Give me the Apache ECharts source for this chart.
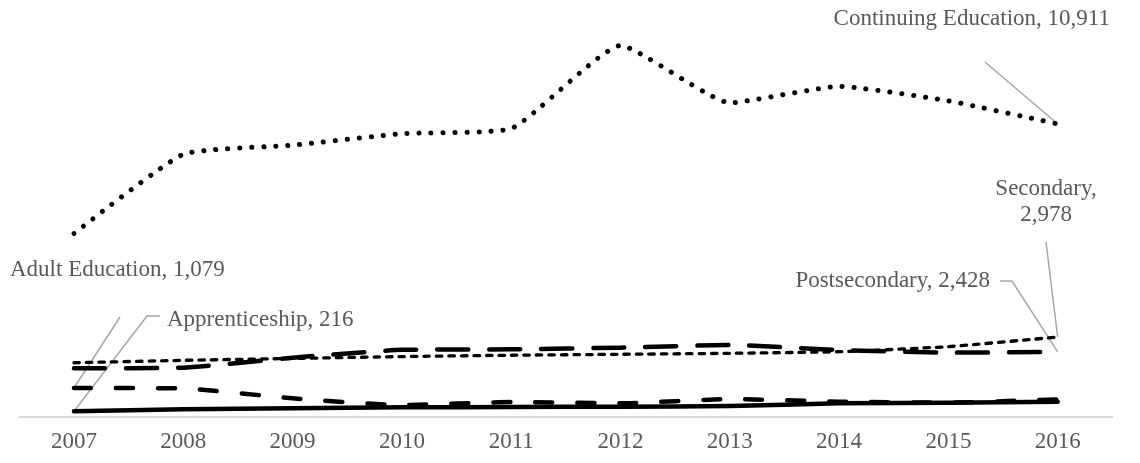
<!DOCTYPE html>
<html><head><meta charset="utf-8">
<script src="https://cdn.jsdelivr.net/npm/echarts@6/dist/echarts.min.js"></script>
<style>html,body{margin:0;padding:0;background:#fff}#c{width:1140px;height:463px}</style>
</head><body><div id="c"></div>
<script>
const years = ['2007','2008','2009','2010','2011','2012','2013','2014','2015','2016'];
const continuing = [6830, 9780, 10120, 10550, 10740, 13830, 11700, 12310, 11770, 10911];
const secondary = [2020, 2110, 2180, 2250, 2300, 2335, 2372, 2432, 2619, 2978];
const postsecondary = [1813, 1837, 2210, 2500, 2520, 2582, 2681, 2495, 2396, 2428];
const adult = [1079, 1062, 696, 440, 558, 509, 670, 570, 533, 658];
const apprentice = [216, 287, 324, 361, 372, 385, 410, 509, 533, 570];
const seriesNames = ['Continuing Education', 'Secondary', 'Postsecondary', 'Adult Education', 'Apprenticeship'];
const labelTexts = ['Continuing Education, 10,911', 'Secondary,\n2,978', 'Postsecondary, 2,428', 'Adult Education, 1,079', 'Apprenticeship, 216'];

const FONT = "'Liberation Serif', 'Times New Roman', serif";
const TXT = '#595959';
const LEAD = '#a6a6a6';

const chart = echarts.init(document.getElementById('c'), null, {renderer: 'canvas'});
const baseLine = (w, type) => ({color: '#000', width: w, type: type, cap: 'round', join: 'round'});
const mk = (name, data, ls) => ({
  name, type: 'line', data, smooth: 0.15, showSymbol: false, symbol: 'none',
  lineStyle: ls, emphasis: {disabled: true}, silent: true, animation: false
});
chart.setOption({
  animation: false,
  grid: {left: 19.35, right: 27.65, top: 41, bottom: 46, containLabel: false},
  xAxis: {
    type: 'category', data: years, boundaryGap: true,
    axisLine: {show: true, lineStyle: {color: '#d9d9d9', width: 2}},
    axisTick: {show: false},
    axisLabel: {color: TXT, fontFamily: FONT, fontSize: 23, margin: 13}
  },
  yAxis: {type: 'value', min: 0, max: 14000, show: false, splitLine: {show: false}},
  series: [
    mk(seriesNames[4], apprentice, baseLine(4.5, 'solid')),
    mk(seriesNames[3], adult, baseLine(4.5, [17, 25])),
    mk(seriesNames[2], postsecondary, baseLine(4.5, [31, 21])),
    mk(seriesNames[1], secondary, baseLine(3.3, [5.5, 7])),
    mk(seriesNames[0], continuing, baseLine(5, [0.1, 11.9]))
  ]
});

function pt(arr, i) {
  return chart.convertToPixel({xAxisIndex: 0, yAxisIndex: 0}, [i, arr[i]]);
}
const last = years.length - 1;
const pC = pt(continuing, last), pS = pt(secondary, last), pP = pt(postsecondary, last);
const pA = pt(adult, 0), pR = pt(apprentice, 0);
const txt = (text, x, y, align) => ({
  type: 'text', x, y, silent: true,
  style: {text, fill: TXT, font: '23px ' + FONT, align, verticalAlign: 'middle', lineHeight: 26}
});
const line = (points) => ({
  type: 'polyline', silent: true,
  shape: {points}, style: {stroke: LEAD, lineWidth: 1.5, fill: null}
});
chart.setOption({
  graphic: [
    txt(labelTexts[0], 1110, 19, 'right'),
    line([[985, 62], pC]),
    txt(labelTexts[1], 1046, 202, 'center'),
    line([[1046, 242], pS]),
    txt(labelTexts[2], 990, 281, 'right'),
    line([[1000, 281], [1012, 281], pP]),
    txt(labelTexts[3], 10, 270, 'left'),
    line([[120, 317], pA]),
    txt(labelTexts[4], 167, 320, 'left'),
    line([[160, 316], [147, 316], pR])
  ]
});
</script></body></html>
